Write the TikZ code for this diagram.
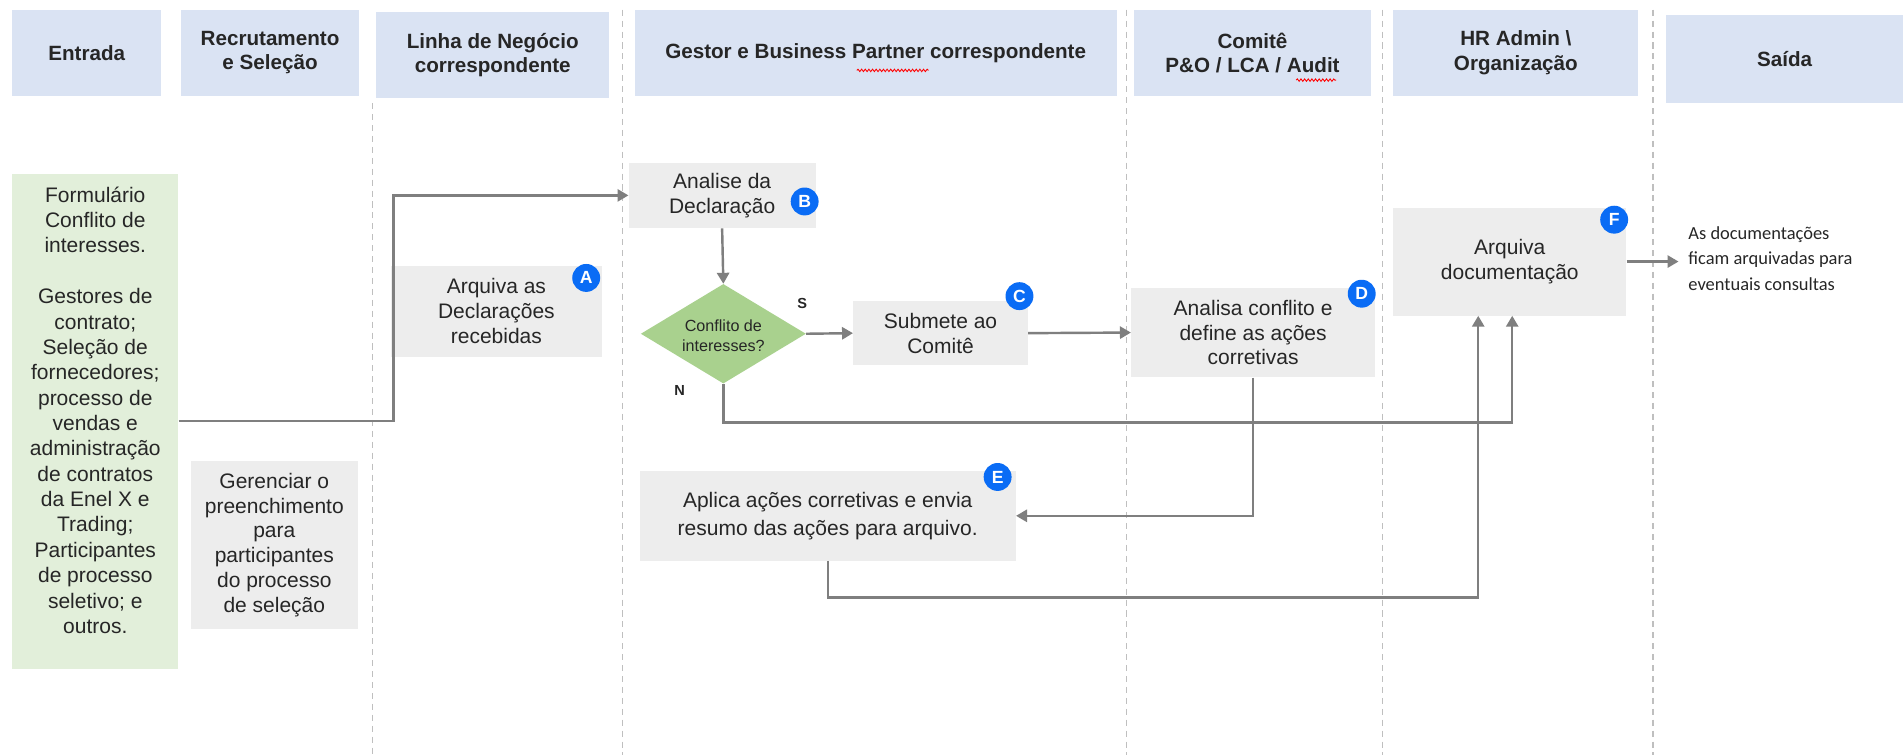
\documentclass[tikz,border=0pt]{standalone}
\usepackage{fontspec}
\setmainfont{Liberation Sans}
\newfontfamily\calibri{Carlito}
\usetikzlibrary{shapes.geometric,arrows.meta,decorations.pathmorphing}
\definecolor{hdr}{HTML}{DAE3F3}
\definecolor{boxgray}{HTML}{EDEDED}
\definecolor{entgreen}{HTML}{E2EFDA}
\definecolor{diagreen}{HTML}{A9D18E}
\definecolor{linegray}{HTML}{7F7F7F}
\definecolor{lanegray}{HTML}{BFBFBF}
\definecolor{badgeblue}{HTML}{0A6CF5}
\definecolor{txt}{HTML}{262626}
\tikzset{
  hdrbox/.style={fill=hdr, inner sep=0pt, align=center, text=txt,
    font=\bfseries\fontsize{17}{20}\selectfont},
  graybox/.style={fill=boxgray, inner sep=0pt, align=center, text=txt,
    font=\fontsize{17.3}{20.5}\selectfont},
  badge/.style={circle, fill=badgeblue, inner sep=0pt, minimum size=23pt,
    text=white, font=\bfseries\fontsize{14.5}{14.5}\selectfont},
  flow/.style={draw=linegray, line width=2pt, -{Triangle[length=9pt,width=10pt]}},
  lane/.style={draw=lanegray, dashed, line width=0.9pt, dash pattern=on 5pt off 4pt},
  yn/.style={font=\bfseries\fontsize{12}{12}\selectfont, text=txt},
  spell/.style={draw=red, line width=0.7pt, decorate,
    decoration={snake, amplitude=1pt, segment length=3pt}}
}
\begin{document}
\begin{tikzpicture}[x=1pt,y=-1pt]
\useasboundingbox[fill=white] (0,0) rectangle (1568,622);

% lane separators
\draw[lane] (307,85) -- (307,622);
\draw[lane] (513,8) -- (513,622);
\draw[lane] (928,8) -- (928,622);
\draw[lane] (1139,8) -- (1139,622);
\draw[lane] (1362,8) -- (1362,622);

% headers
\node[hdrbox, minimum width=123pt, minimum height=71pt] (h1) at (71.5,43.5) {Entrada};
\node[hdrbox, minimum width=147pt, minimum height=71pt] (h2) at (222.5,43.5) {Recrutamento\\e Seleção};
\node[hdrbox, minimum width=192pt, minimum height=71pt] (h3) at (406,45.5) {Linha de Negócio\\correspondente};
\node[hdrbox, minimum width=397pt, minimum height=71pt] (h4) at (721.5,43.5) {Gestor e Business Partner correspondente};
\node[hdrbox, minimum width=196pt, minimum height=71pt] (h5) at (1032,43.5) {Comitê\\P\&O / LCA / Audit};
\node[hdrbox, minimum width=202pt, minimum height=71pt] (h6) at (1249,43.5) {HR Admin \textbackslash\\Organização};
\node[hdrbox, minimum width=195pt, minimum height=73pt] (h7) at (1470.5,48.5) {Saída};

% spell-check underlines
\draw[spell] (706,58) -- (765,58);
\draw[spell] (1068,66) -- (1101,66);

% Entrada box
\node[fill=entgreen, inner sep=0pt, minimum width=137pt, minimum height=408pt] (ent) at (78.5,347) {};
\node[align=center, text=txt, font=\fontsize{17.3}{20.9}\selectfont, inner sep=0pt] (entt) at (78.5,338)
  {Formulário\\Conflito de\\interesses.\\[20.9pt]Gestores de\\contrato;\\Seleção de\\fornecedores;\\processo de\\vendas e\\administração\\de contratos\\da Enel X e\\Trading;\\Participantes\\de processo\\seletivo; e\\outros.};

% Recrutamento
\node[graybox, minimum width=138pt, minimum height=138pt] (ger) at (226,449)
  {Gerenciar o\\preenchimento\\para\\participantes\\do processo\\de seleção};

% Linha
\node[graybox, minimum width=174pt, minimum height=75pt] (arqA) at (409,256.5)
  {Arquiva as\\Declarações\\recebidas};

% Gestor lane
\node[graybox, minimum width=154pt, minimum height=54pt] (anal) at (595,161)
  {Analise da\\Declaração};
\node[diamond, fill=diagreen, inner sep=0pt, minimum width=136pt, minimum height=82pt] (dia) at (596,275) {};
\node[align=center, text=txt, font=\fontsize{13.3}{16.5}\selectfont, inner sep=0pt] (diat) at (596,277)
  {Conflito de\\interesses?};
\node[graybox, minimum width=144pt, minimum height=53pt] (sub) at (775,274.5)
  {Submete ao\\Comitê};
\node[graybox, minimum width=310pt, minimum height=74pt, font=\fontsize{17.3}{23}\selectfont] (apl) at (682,425)
  {Aplica ações corretivas e envia\\resumo das ações para arquivo.};

% Comite
\node[graybox, minimum width=201pt, minimum height=74pt] (ana) at (1032.5,274)
  {Analisa conflito e\\define as ações\\corretivas};

% HR
\node[graybox, minimum width=192pt, minimum height=89pt] (arq) at (1244,215.5)
  {Arquiva\\documentação};

% output
\node[anchor=west, align=left, text=txt, font=\calibri\fontsize{15.2}{21}\selectfont, inner sep=0pt] (out) at (1391,213)
  {As documentações\\ficam arquivadas para\\eventuais consultas};

% S / N labels
\node[yn] (sl) at (661,250) {S};
\node[yn] (nl) at (560,322) {N};

% badges
\node[badge] (bA) at (483,229) {A};
\node[badge] (bB) at (663,166) {B};
\node[badge] (bC) at (840,244) {C};
\node[badge] (bD) at (1122,242) {D};
\node[badge] (bE) at (822,393) {E};
\node[badge] (bF) at (1330,181) {F};

% connectors
\draw[flow] (ent.east) -- ++(177,0) |- (anal.west);
\draw[flow] (anal.south) -- (dia.north);
\draw[flow] (dia.east) -- (sub.west);
\draw[flow] (sub.east) -- (ana.west);
\draw[flow] (dia.south) -- ++(0,32) -| ([xshift=2pt]arq.south);
\draw[flow] (ana.south) |- (apl.east);
\draw[flow] (apl.south) -- ++(0,30) -| ([xshift=-26pt]arq.south);
\draw[flow] (arq.east) -- ([xshift=-8pt]out.west |- arq.east);
\end{tikzpicture}
\end{document}
